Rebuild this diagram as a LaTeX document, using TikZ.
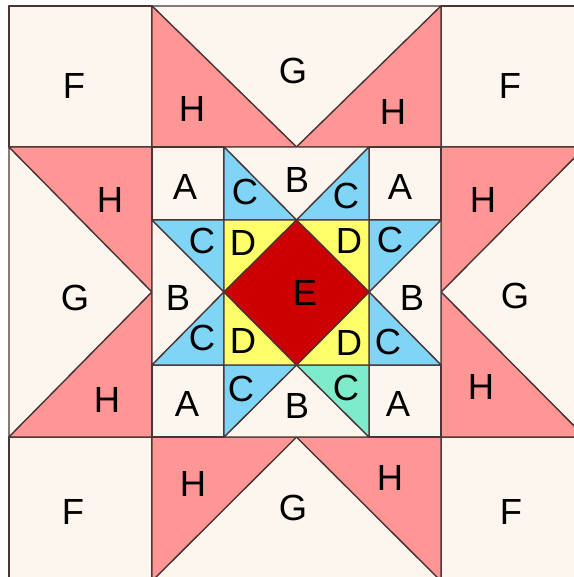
\documentclass[tikz,border=0pt]{standalone}
\usepackage{fontspec}
\setmainfont{Liberation Sans}
\definecolor{cream}{HTML}{FDF6EE}
\definecolor{pinkH}{HTML}{FF9696}
\definecolor{blueC}{HTML}{80D4F6}
\definecolor{tealC}{HTML}{7EEBCB}
\definecolor{yellowD}{HTML}{FFFF6A}
\definecolor{redE}{HTML}{CC0000}
\definecolor{edge}{HTML}{4A3434}
\begin{document}
\begin{tikzpicture}[x=1bp,y=-1bp,
  piece/.style={draw=edge,line width=1.3bp,line join=round},
  lbl/.style={font=\fontsize{36.5}{40}\selectfont,text=black,inner sep=0pt}]
\useasboundingbox (0,0) rectangle (574,577);
\clip (0,0) rectangle (574,577);
\fill[white] (0,0) rectangle (574,577);
% corner squares F
\filldraw[piece,fill=cream] (9,6) rectangle (152,147);
\filldraw[piece,fill=cream] (441,6) rectangle (585,147);
\filldraw[piece,fill=cream] (9,437) rectangle (152,581);
\filldraw[piece,fill=cream] (441,437) rectangle (585,581);
% top
\filldraw[piece,fill=cream] (152,6) -- (441,6) -- (296.5,147) -- cycle;
\filldraw[piece,fill=pinkH] (152,6) -- (296.5,147) -- (152,147) -- cycle;
\filldraw[piece,fill=pinkH] (441,6) -- (441,147) -- (296.5,147) -- cycle;
% left
\filldraw[piece,fill=cream] (9,147) -- (152,292) -- (9,437) -- cycle;
\filldraw[piece,fill=pinkH] (9,147) -- (152,147) -- (152,292) -- cycle;
\filldraw[piece,fill=pinkH] (9,437) -- (152,437) -- (152,292) -- cycle;
% right
\filldraw[piece,fill=cream] (585,147) -- (441,292) -- (585,437) -- cycle;
\filldraw[piece,fill=pinkH] (441,147) -- (585,147) -- (441,292) -- cycle;
\filldraw[piece,fill=pinkH] (441,437) -- (585,437) -- (441,292) -- cycle;
% bottom
\filldraw[piece,fill=cream] (152,581) -- (296.5,437) -- (441,581) -- cycle;
\filldraw[piece,fill=pinkH] (152,437) -- (296.5,437) -- (152,581) -- cycle;
\filldraw[piece,fill=pinkH] (441,437) -- (296.5,437) -- (441,581) -- cycle;
% center A squares
\filldraw[piece,fill=cream] (152,147) rectangle (224,220);
\filldraw[piece,fill=cream] (369,147) rectangle (441,220);
\filldraw[piece,fill=cream] (152,365) rectangle (224,437);
\filldraw[piece,fill=cream] (369,365) rectangle (441,437);
% top geese
\filldraw[piece,fill=cream] (224,147) -- (369,147) -- (296.5,220) -- cycle;
\filldraw[piece,fill=blueC] (224,147) -- (296.5,220) -- (224,220) -- cycle;
\filldraw[piece,fill=blueC] (369,147) -- (369,220) -- (296.5,220) -- cycle;
% left geese
\filldraw[piece,fill=cream] (152,220) -- (224,292) -- (152,365) -- cycle;
\filldraw[piece,fill=blueC] (152,220) -- (224,220) -- (224,292) -- cycle;
\filldraw[piece,fill=blueC] (152,365) -- (224,365) -- (224,292) -- cycle;
% right geese
\filldraw[piece,fill=cream] (441,220) -- (369,292) -- (441,365) -- cycle;
\filldraw[piece,fill=blueC] (441,220) -- (369,220) -- (369,292) -- cycle;
\filldraw[piece,fill=blueC] (441,365) -- (369,365) -- (369,292) -- cycle;
% bottom geese
\filldraw[piece,fill=cream] (224,437) -- (296.5,365) -- (369,437) -- cycle;
\filldraw[piece,fill=blueC] (224,437) -- (224,365) -- (296.5,365) -- cycle;
\filldraw[piece,fill=tealC] (369,437) -- (369,365) -- (296.5,365) -- cycle;
% D triangles
\filldraw[piece,fill=yellowD] (224,220) -- (296.5,220) -- (224,292) -- cycle;
\filldraw[piece,fill=yellowD] (369,220) -- (296.5,220) -- (369,292) -- cycle;
\filldraw[piece,fill=yellowD] (224,365) -- (224,292) -- (296.5,365) -- cycle;
\filldraw[piece,fill=yellowD] (369,365) -- (369,292) -- (296.5,365) -- cycle;
% E
\filldraw[piece,fill=redE] (224,292) -- (296.5,220) -- (369,292) -- (296.5,365) -- cycle;
% labels
\node[lbl] (f1) at (74,86) {F};
\node[lbl] (f2) at (510,86) {F};
\node[lbl] (f3) at (73,512) {F};
\node[lbl] (f4) at (511,512) {F};
\node[lbl] (g1) at (293,71) {G};
\node[lbl] (g2) at (75,298) {G};
\node[lbl] (g3) at (515,296) {G};
\node[lbl] (g4) at (293,508) {G};
\node[lbl] (h1) at (192,109) {H};
\node[lbl] (h2) at (393,112) {H};
\node[lbl] (h3) at (110,200) {H};
\node[lbl] (h4) at (483,200) {H};
\node[lbl] (h5) at (107,400) {H};
\node[lbl] (h6) at (481,387) {H};
\node[lbl] (h7) at (193,484) {H};
\node[lbl] (h8) at (390,478) {H};
\node[lbl] (a1) at (185,187) {A};
\node[lbl] (a2) at (400,187) {A};
\node[lbl] (a3) at (187,404) {A};
\node[lbl] (a4) at (398,404) {A};
\node[lbl] (b1) at (297,180) {B};
\node[lbl] (b2) at (178,298) {B};
\node[lbl] (b3) at (412,298) {B};
\node[lbl] (b4) at (297,406) {B};
\node[lbl] (c1) at (245,192) {C};
\node[lbl] (c2) at (346,196) {C};
\node[lbl] (c3) at (202,241) {C};
\node[lbl] (c4) at (390,240) {C};
\node[lbl] (c5) at (202,338) {C};
\node[lbl] (c6) at (388,342) {C};
\node[lbl] (c7) at (241,389) {C};
\node[lbl] (c8) at (346,388) {C};
\node[lbl] (d1) at (243,243) {D};
\node[lbl] (d2) at (349,241) {D};
\node[lbl] (d3) at (243,341) {D};
\node[lbl] (d4) at (349,343) {D};
\node[lbl] (e1) at (305,293) {E};
\end{tikzpicture}
\end{document}
